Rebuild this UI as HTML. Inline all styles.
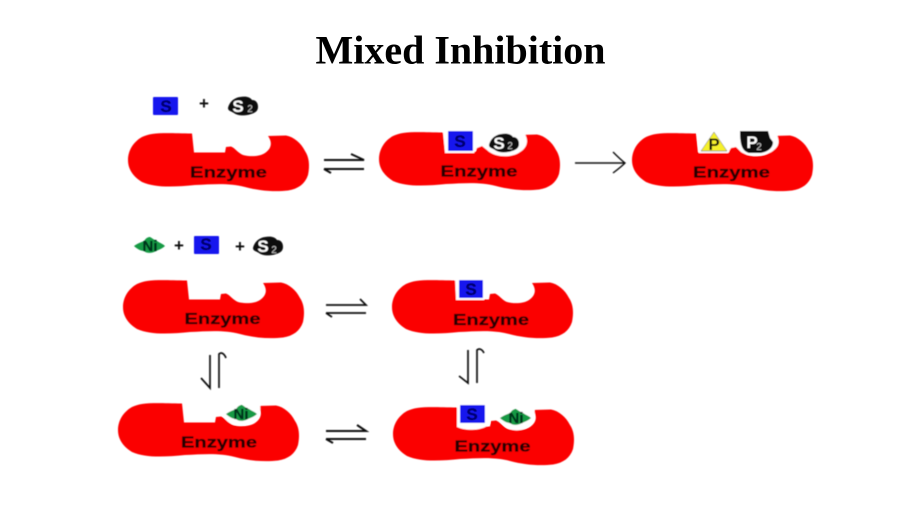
<!DOCTYPE html>
<html>
<head>
<meta charset="utf-8">
<style>
html,body{margin:0;padding:0;background:#fff;width:922px;height:518px;overflow:hidden}
svg{display:block}
.t{font-family:"Liberation Serif",serif;font-weight:bold;font-size:40px;fill:#000}
.e{font-family:"Liberation Sans",sans-serif;font-weight:bold;font-size:16px;fill:#260005;stroke:#260005;stroke-width:.3;text-anchor:middle}
.l{font-family:"Liberation Sans",sans-serif;font-weight:bold;text-anchor:middle}
.a{fill:none;stroke:#111;stroke-width:1.7}
.p{font-family:"Liberation Sans",sans-serif;font-weight:bold;font-size:17px;fill:#111;text-anchor:middle}
.sb{font-size:17px;fill:#05056a;stroke:#05056a;stroke-width:.4}
.sw{font-size:17px;fill:#fff}
.two{font-size:10px;fill:#ccc;font-weight:normal}
.nt{font-size:15px;fill:#04301a;stroke:#04301a;stroke-width:.3}
</style>
</head>
<body>
<svg width="922" height="518" viewBox="0 0 922 518" xmlns="http://www.w3.org/2000/svg">
<defs>
<filter id="b" x="-5%" y="-5%" width="110%" height="110%"><feGaussianBlur stdDeviation="0.4"/></filter>
<path id="enz" fill="#fb0000" d="M82 48.500 L84 67.500 L115 67.500 L116 62 L121 61.500 C125 63 128 68 133 70 C140 72 150 71.500 155 68 C161 64 163 58 158 51 L176 50.500 C184 52 191 58 195 66 C199 72 200 80 198 90 C195 99 188 104 178 105.500 C165 107 150 106 135 102 C120 98 105 99 85 100 C65 102 45 103 32 97 C24 92 18 85 18 75 C18 66 23 57 32 52 C42 47 55 48 82 48.500 Z"/>
<path id="s2" fill="#0a0a0a" d="M-15 2 C-14 -3 -10 -8 -3 -9 C3 -10 7 -9 9 -6 C13 -6 15 -3 15 1 C15 5 12 7 8 8 C3 10 -5 10 -9 7 C-12 5 -15 5 -15 2 Z"/>
<path id="ni" fill="#169a45" d="M-16 0 C-12 -3 -8 -4 -6 -5 C-4 -8 -2 -9 0 -9 C2 -8 4 -6 7 -5 C10 -3 13 -2 15 0 C12 3 8 4 6 5 C3 7 -3 8 -6 5 C-9 5 -13 3 -16 0 Z"/>
</defs>

<text class="t" x="460.500" y="63.500" text-anchor="middle">Mixed Inhibition</text>

<g filter="url(#b)">
<!-- Row 1 legend -->
<rect x="153" y="97" width="25" height="18" rx="1" fill="#1414ee"/>
<text class="l sb" x="166" y="112">S</text>
<text class="p" x="204" y="109">+</text>
<use href="#s2" x="243" y="106"/>
<text class="l sw" x="238" y="112">S</text>
<text class="l two" x="250" y="112">2</text>

<!-- Enzyme 1 -->
<use href="#enz" x="110" y="85"/>
<text class="e" x="228.500" y="177.500" textLength="77" lengthAdjust="spacingAndGlyphs">Enzyme</text>

<!-- Enzyme 2 -->
<use href="#enz" x="361" y="84"/>
<path d="M443 130 L445 153 L474 153 L477 148 L482 146 L487 150 C495 158 512 158 520 152 C530 146 528 136 522 131 L490 128 Z" fill="#fff"/>
<rect x="448" y="131" width="25" height="20" rx="1" fill="#1414ee"/>
<text class="l sb" x="460" y="147">S</text>
<use href="#s2" x="504" y="143"/>
<text class="l sw" x="499" y="149">S</text>
<text class="l two" x="510" y="149">2</text>
<text class="e" x="479" y="176.700" textLength="77" lengthAdjust="spacingAndGlyphs">Enzyme</text>

<!-- Enzyme 3 product -->
<use href="#enz" x="614" y="85"/>
<path d="M697 130 L699 153 L728 153 L731 148 L736 147 L741 152 C750 158 768 156 774 150 C782 144 778 136 774 130 Z" fill="#fff"/>
<path d="M714 132 L727 151 L701 151 Z" fill="#f5f02a" stroke="#555" stroke-width=".5"/>
<text class="l" x="714" y="150" font-size="17" fill="#111">P</text>
<path d="M740 131 L768 131 L770 138 L773 142 C773 149 766 153 758 153 L749 153 C743 151 740 147 740 131 Z" fill="#0a0a0a"/>
<text class="l" x="752" y="148" font-size="17" fill="#fff" font-weight="normal">P</text>
<text class="l two" x="759" y="150">2</text>
<text class="e" x="731.500" y="177.700" textLength="77" lengthAdjust="spacingAndGlyphs">Enzyme</text>

<!-- Row 1 arrows -->
<path class="a" style="stroke-width:2" d="M324 160 L364 160 L351 154"/>
<path class="a" style="stroke-width:2" d="M324 169 L364 169 M324 169 L331 173"/>
<path class="a" style="stroke-width:1.4" d="M575 163 L624 163 M613 152 C617 156 621 160 625 163 C621 167 617 170 613 173"/>

<!-- Row 2 legend -->
<use href="#ni" x="150" y="246"/>
<text class="l nt" x="150" y="251">Ni</text>
<text class="p" x="179" y="251">+</text>
<rect x="194" y="236" width="25" height="18" rx="1" fill="#1414ee"/>
<text class="l sb" x="206" y="250">S</text>
<text class="p" x="240" y="252">+</text>
<use href="#s2" x="268" y="246"/>
<text class="l sw" x="263" y="252">S</text>
<text class="l two" x="274" y="253">2</text>

<!-- Enzyme 4 free -->
<use href="#enz" x="105" y="232"/>
<text class="e" x="222.500" y="324" textLength="76" lengthAdjust="spacingAndGlyphs">Enzyme</text>

<!-- Enzyme 5 S bound -->
<use href="#enz" x="374" y="232"/>
<path d="M455 278 L456 300 L484 300 L484 278 Z" fill="#fff"/>
<rect x="459" y="280" width="24" height="18" rx="1" fill="#1414ee"/>
<text class="l sb" x="471" y="295">S</text>
<text class="e" x="491" y="325" textLength="76" lengthAdjust="spacingAndGlyphs">Enzyme</text>

<!-- Row 2 horizontal arrows -->
<path class="a" d="M326 305 L366 305 L360 299"/>
<path class="a" d="M326 313 L366 313 M326 313 L332 317"/>

<!-- Vertical arrows -->
<path class="a" d="M210 355 L210 388 L201 378"/>
<path class="a" d="M219 388 L219 354 C221 352 224 353 226 358"/>
<path class="a" d="M468 350 L468 383 L459 376"/>
<path class="a" d="M477 383 L477 350 C479 348 482 349 484 353"/>

<!-- Enzyme 6 Ni bound -->
<use href="#enz" x="100" y="355"/>
<path d="M220 405 C221 420 232 427 243 425 C255 424 262 415 260 405 Z" fill="#fff"/>
<use href="#ni" x="242" y="414"/>
<text class="l nt" x="241" y="419">Ni</text>
<text class="e" x="219" y="447.700" textLength="76" lengthAdjust="spacingAndGlyphs">Enzyme</text>

<!-- Enzyme 7 S + Ni -->
<use href="#enz" x="375" y="359"/>
<path d="M457 404 L457 427 C468 432 486 430 490 423 L490 404 Z" fill="#fff"/>
<rect x="460" y="405" width="25" height="18" rx="1" fill="#1414ee"/>
<text class="l sb" x="472" y="420">S</text>
<path d="M498 410 C498 425 510 432 520 430 C530 428 537 418 534 408 Z" fill="#fff"/>
<use href="#ni" x="516" y="418"/>
<text class="l nt" x="516" y="423">Ni</text>
<text class="e" x="492.500" y="451.700" textLength="76" lengthAdjust="spacingAndGlyphs">Enzyme</text>

<!-- Row 3 horizontal arrows -->
<path class="a" style="stroke-width:2" d="M326 431 L366 431 L357 425"/>
<path class="a" style="stroke-width:2" d="M326 439 L366 439 M326 439 L333 443"/>
</g>
</svg>
</body>
</html>
